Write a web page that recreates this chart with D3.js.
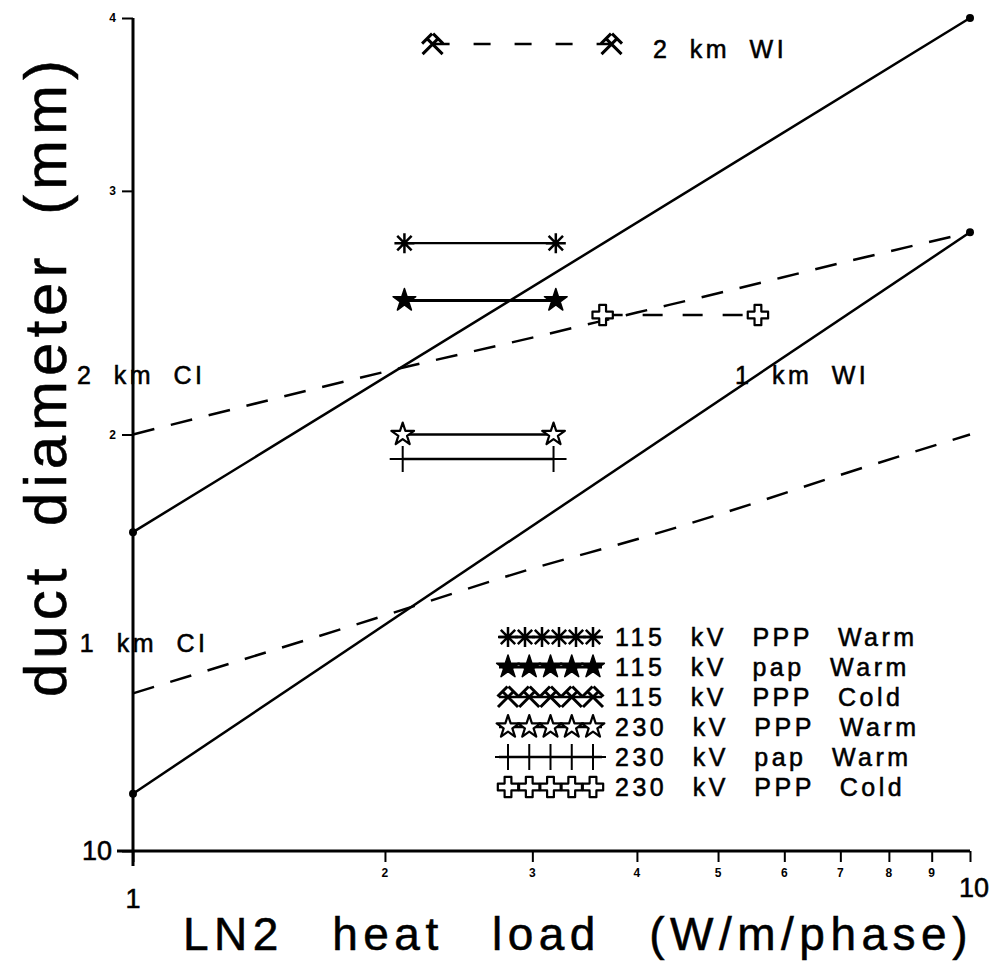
<!DOCTYPE html>
<html>
<head>
<meta charset="utf-8">
<script src="https://cdn.jsdelivr.net/npm/d3@7"></script>
<style>
  html, body { margin: 0; padding: 0; background: #fff; }
  svg { display: block; }
  text { font-family: "Liberation Sans", Arial, sans-serif; fill: #000; }
  text.heavy { stroke: #000; stroke-width: 0.55; }
</style>
</head>
<body>
<svg id="chart" width="990" height="964"></svg>
<script>
// Axis ticks
const xTicks = [1, 2, 3, 4, 5, 6, 7, 8, 9, 10];
const xTickLabels = ["1", "2", "3", "4", "5", "6", "7", "8", "9", "10"];
const yTicks = [10, 20, 30, 40];
const yTickLabels = ["10", "2", "3", "4"];

// Warm-insulation limits (straight lines on log-log axes)
const wiLoad = [1, 10];
const wi2km = [17.0, 40.0];
const wi1km = [11.0, 28.0];

// Cold-insulation limits (dashed curves)
const ciLoad = [1, 2, 3, 4, 5, 7, 10];
const ci2km = [20.0, 22.2, 23.5, 24.5, 25.3, 26.6, 28.0];
const ci1km = [13.0, 14.8, 16.0, 16.8, 17.5, 18.7, 20.0];

// Cable designs: heat-load range at a given duct diameter
const cableNames = ["115 kV PPP Warm", "115 kV pap Warm", "115 kV PPP Cold",
                    "230 kV PPP Warm", "230 kV pap Warm", "230 kV PPP Cold"];
const cableLoadMin = [2.11, 2.11, 2.28, 2.10, 2.10, 3.64];
const cableLoadMax = [3.20, 3.20, 3.73, 3.18, 3.18, 5.58];
const cableDiameter = [27.5, 25.0, 38.3, 20.0, 19.2, 24.4];

// Curve labels
const curveLabels = ["2 km WI", "2 km CI", "1 km WI", "1 km CI"];
const curveLabelLoad = [4.18, 0.857, 5.24, 0.864];
const curveLabelDiam = [37.4, 21.75, 21.75, 13.93];

const svg = d3.select("#chart");
const x = d3.scaleLog().domain([1, 10]).range([133, 970]);
const y = d3.scaleLog().domain([10, 40]).range([851, 18]);

const ink = "#000";

// ----- marker shapes -----
function asteriskPath(r) {
  const p = d3.path();
  p.moveTo(0, -r); p.lineTo(0, r);
  p.moveTo(-r, 0); p.lineTo(r, 0);
  const d = r * 0.72;
  p.moveTo(-d, -d); p.lineTo(d, d);
  p.moveTo(-d, d); p.lineTo(d, -d);
  return p.toString();
}
function hammersPath(r) {
  const p = d3.path();
  const e = r * 0.55;
  p.moveTo(-r, r); p.lineTo(e, -e);
  p.moveTo(r, r); p.lineTo(-e, -e);
  const h = r * 0.5;
  // heads perpendicular to each handle
  p.moveTo(e - h, -e - h); p.lineTo(e + h, -e + h);
  p.moveTo(-e + h, -e - h); p.lineTo(-e - h, -e + h);
  return p.toString();
}
function plusPath(r) {
  const p = d3.path();
  p.moveTo(-r, 0); p.lineTo(r, 0);
  p.moveTo(0, -r); p.lineTo(0, r);
  return p.toString();
}
const starPath = d3.symbol().type(d3.symbolStar).size(160)();
const crossPath = d3.symbol().type(d3.symbolCross).size(230)();

const markerDefs = [
  { d: asteriskPath(10), fill: "none", sw: 2.5 },
  { d: starPath, fill: ink, sw: 1.5 },
  { d: hammersPath(10), fill: "none", sw: 3 },
  { d: starPath, fill: "#fff", sw: 2.2 },
  { d: plusPath(13), fill: "none", sw: 2 },
  { d: crossPath, fill: "#fff", sw: 2.2 }
];
const lineDash = [null, null, "17,24", null, null, "20,20"];
const lineWidth = [2.2, 3, 2.5, 2.5, 2.5, 2.5];

function drawMarker(g, i, cx, cy) {
  const m = markerDefs[i];
  g.append("path")
    .attr("d", m.d)
    .attr("transform", `translate(${cx},${cy})`)
    .attr("fill", m.fill)
    .attr("stroke", ink)
    .attr("stroke-width", m.sw)
    .attr("stroke-linejoin", "round");
}

// ----- axes -----
const axisG = svg.append("g");

const xAxis = d3.axisBottom(x).tickValues(xTicks).tickSize(11).tickFormat("");
const gx = axisG.append("g").attr("transform", `translate(0,${y(10)})`).call(xAxis);
gx.select(".domain").remove();
gx.selectAll("line").attr("stroke", ink).attr("stroke-width", 2);
axisG.append("line").attr("x1", 117).attr("x2", x(10)).attr("y1", y(10)).attr("y2", y(10))
  .attr("stroke", ink).attr("stroke-width", 3);

xTicks.forEach((v, i) => {
  const big = (v === 1 || v === 10);
  axisG.append("text")
    .attr("class", big ? "heavy" : null)
    .attr("x", v === 10 ? x(v) + 4 : x(v))
    .attr("y", v === 1 ? 908 : (v === 10 ? 897 : 877))
    .attr("text-anchor", "middle")
    .attr("font-size", big ? 27 : 12)
    .attr("font-weight", big ? "normal" : "bold")
    .text(xTickLabels[i]);
});

const yAxis = d3.axisLeft(y).tickValues(yTicks).tickSize(11).tickFormat("");
const gy = axisG.append("g").attr("transform", `translate(${x(1)},0)`).call(yAxis);
gy.select(".domain").remove();
gy.selectAll("line").attr("stroke", ink).attr("stroke-width", 2);
axisG.append("line").attr("x1", x(1)).attr("x2", x(1)).attr("y1", y(40)).attr("y2", 866)
  .attr("stroke", ink).attr("stroke-width", 3);

yTicks.forEach((v, i) => {
  const big = v === 10;
  axisG.append("text")
    .attr("class", big ? "heavy" : null)
    .attr("x", big ? 112 : 116)
    .attr("y", y(v))
    .attr("dy", "0.35em")
    .attr("text-anchor", "end")
    .attr("font-size", big ? 27 : 12)
    .attr("font-weight", big ? "normal" : "bold")
    .text(yTickLabels[i]);
});

// axis titles
svg.append("text")
  .attr("class", "heavy")
  .attr("x", 183).attr("y", 950)
  .attr("font-size", 46)
  .attr("letter-spacing", 5.5)
  .attr("word-spacing", 30)
  .text("LN2 heat load (W/m/phase)");

svg.append("text")
  .attr("class", "heavy")
  .attr("transform", "translate(66,376) rotate(-90)")
  .attr("text-anchor", "middle")
  .attr("font-size", 60)
  .attr("letter-spacing", 5)
  .attr("word-spacing", 16)
  .text("duct diameter (mm)");

// ----- limit curves -----
const lineGen = d3.line().x(d => x(d[0])).y(d => y(d[1]));
const curveGen = d3.line().x(d => x(d[0])).y(d => y(d[1])).curve(d3.curveMonotoneX);

[wi2km, wi1km].forEach(vals => {
  const pts = wiLoad.map((l, i) => [l, vals[i]]);
  svg.append("path").attr("d", lineGen(pts))
    .attr("fill", "none").attr("stroke", ink).attr("stroke-width", 2.5);
  pts.forEach(p => svg.append("circle").attr("cx", x(p[0])).attr("cy", y(p[1])).attr("r", 4).attr("fill", ink));
});

[ci2km, ci1km].forEach(vals => {
  const pts = ciLoad.map((l, i) => [l, vals[i]]);
  svg.append("path").attr("d", curveGen(pts))
    .attr("fill", "none").attr("stroke", ink).attr("stroke-width", 2.5)
    .attr("stroke-dasharray", "22,17");
});

// ----- cable design ranges -----
cableNames.forEach((name, i) => {
  const g = svg.append("g");
  const yy = y(cableDiameter[i]);
  const x0 = x(cableLoadMin[i]), x1 = x(cableLoadMax[i]);
  g.append("line").attr("x1", x0).attr("x2", x1).attr("y1", yy).attr("y2", yy)
    .attr("stroke", ink).attr("stroke-width", lineWidth[i])
    .attr("stroke-dasharray", lineDash[i]);
  drawMarker(g, i, x0, yy);
  drawMarker(g, i, x1, yy);
});

// curve labels
curveLabels.forEach((t, i) => {
  svg.append("text")
    .attr("class", "heavy")
    .attr("x", x(curveLabelLoad[i])).attr("y", y(curveLabelDiam[i]))
    .attr("font-size", 25)
    .attr("letter-spacing", 3.5)
    .attr("word-spacing", 9)
    .text(t);
});

// ----- legend -----
const legRowY = [637, 667, 697, 727, 757, 787];
const legX0 = 497, legX1 = 604;
cableNames.forEach((name, i) => {
  const g = svg.append("g");
  const yy = legRowY[i];
  g.append("line").attr("x1", legX0 + 2).attr("x2", legX1 - 2).attr("y1", yy).attr("y2", yy)
    .attr("stroke", ink).attr("stroke-width", i === 1 ? 3 : 2.5);
  const n = i === 0 ? 6 : 5;
  const pos = d3.range(n).map(k => legX0 + 11 + k * (legX1 - legX0 - 22) / (n - 1));
  pos.forEach(px => drawMarker(g, i, px, yy));
  g.append("text")
    .attr("class", "heavy")
    .attr("x", 615).attr("y", yy)
    .attr("dy", "0.36em")
    .attr("font-size", 25)
    .attr("letter-spacing", 3.5)
    .attr("word-spacing", 15)
    .text(name);
});
</script>
</body>
</html>
